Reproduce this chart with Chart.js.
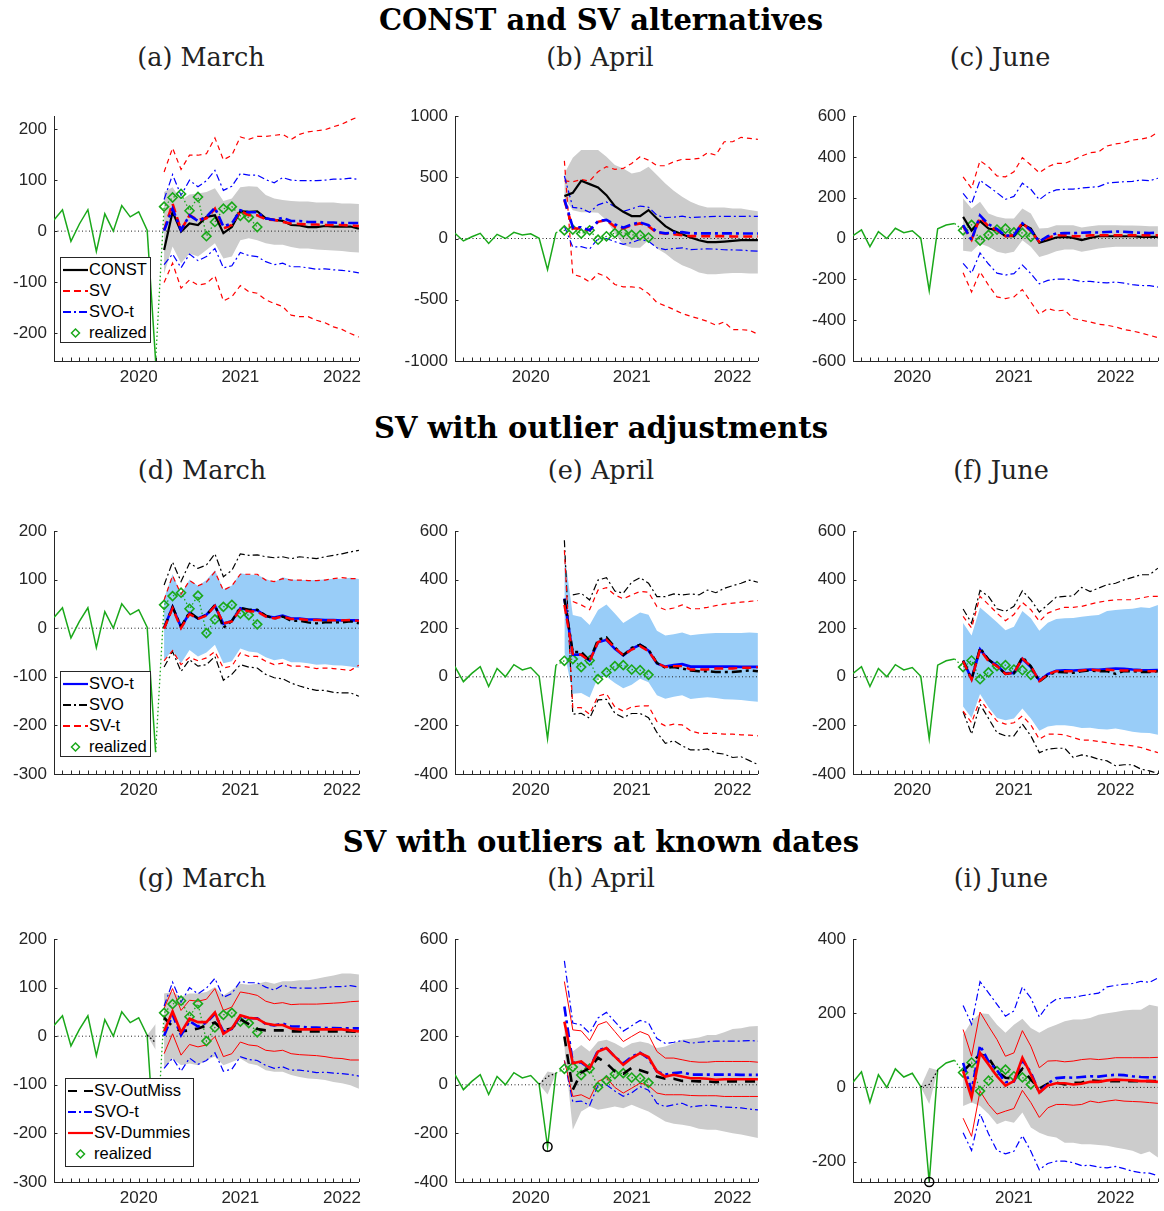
<!DOCTYPE html>
<html>
<head>
<meta charset="utf-8">
<script src="https://cdn.jsdelivr.net/npm/chart.js@4.4.1/dist/chart.umd.min.js"></script>
<style>
  html, body { margin: 0; padding: 0; background: #fff; }
  body { width: 1164px; height: 1211px; position: relative; overflow: hidden; }
  .ttl { position: absolute; font-family: 'DejaVu Serif', serif; font-weight: bold; font-size: 29px; line-height: 1; color: #000; transform: translate(-50%, -50%); white-space: nowrap; }
  .sub { position: absolute; font-family: 'DejaVu Serif', serif; font-size: 25.5px; line-height: 1; color: #222; transform: translate(-50%, -50%); white-space: nowrap; }
  canvas { position: absolute; }
  .leg { position: absolute; background: #fff; border: 1px solid #262626; box-sizing: border-box; padding-top: 1px;
         font-family: 'Liberation Sans', Arial, sans-serif; font-size: 16.5px; color: #000; }
  .leg div { height: 21px; display: flex; align-items: center; }
  .leg svg { margin: 0 1px 0 2px; flex: none; }
</style>
</head>
<body>

<div class="ttl" style="left:601px;top:20px">CONST and SV alternatives</div>
<div class="sub" style="left:201px;top:58px">(a) March</div>
<div class="sub" style="left:600px;top:58px">(b) April</div>
<div class="sub" style="left:1000px;top:58px">(c) June</div>

<div class="ttl" style="left:601px;top:428px">SV with outlier adjustments</div>
<div class="sub" style="left:202px;top:471px">(d) March</div>
<div class="sub" style="left:601px;top:471px">(e) April</div>
<div class="sub" style="left:1001px;top:471px">(f) June</div>

<div class="ttl" style="left:601px;top:842px">SV with outliers at known dates</div>
<div class="sub" style="left:202px;top:879px">(g) March</div>
<div class="sub" style="left:601px;top:879px">(h) April</div>
<div class="sub" style="left:1001px;top:879px">(i) June</div>

<canvas id="pa"></canvas><canvas id="pb"></canvas><canvas id="pc"></canvas>
<canvas id="pd"></canvas><canvas id="pe"></canvas><canvas id="pf"></canvas>
<canvas id="pg"></canvas><canvas id="ph"></canvas><canvas id="pi"></canvas>

<script>
// x is counted in months from Jan 2020 (0 = Jan 2020, 12 = Jan 2021 ...)
const actualStart = -10;
const actual = [22, 42, -20, 14, 42, -40, 34, 0, 50, 28, 38, 2, -255, 48, 66, 73, 40, 67, -10, 18, 44, 48, 30, 27, 8];
const outlierMonth = 2;

const yearTicks = [0, 12, 24];
const yearLabels = ['2020', '2021', '2022'];

const ticksA = [-200, -100, 0, 100, 200];
const ticksB = [-1000, -500, 0, 500, 1000];
const ticksC = [-600, -400, -200, 0, 200, 400, 600];
const ticksD = [-300, -200, -100, 0, 100, 200];
const ticksE = [-400, -200, 0, 200, 400, 600];
const ticksI = [-200, 0, 200, 400];

// ---- March vintage (forecasts from Apr 2020) ----
const marConstMed = [-37, 38, -1, 15, 12, 28, 31, -4, 8, 39, 38, 39, 25, 22, 20, 12, 11, 8, 8, 10, 9, 9, 9, 5];
const marConstLo = [-83, -30, -63, -44, -50, -37, -24, -54, -50, -18, -14, -18, -24, -27, -27, -31, -34, -34, -36, -37, -38, -39, -41, -42];
const marConstHi = [77, 86, 61, 72, 74, 77, 84, 59, 64, 86, 88, 87, 71, 64, 61, 59, 58, 58, 56, 56, 56, 54, 54, 53];
const marSvMed = [2, 54, 2, 31, 22, 25, 44, 5, 12, 40, 31, 31, 23, 22, 18, 15, 14, 13, 13, 12, 12, 12, 11, 10];
const marSvLo = [-101, -63, -112, -96, -106, -103, -88, -137, -129, -107, -119, -122, -135, -142, -148, -165, -168, -168, -175, -180, -188, -193, -201, -208];
const marSvHi = [116, 163, 121, 149, 149, 152, 183, 140, 149, 185, 180, 186, 186, 188, 190, 180, 190, 195, 197, 199, 205, 210, 218, 225];
const marSvotMed = [1, 44, 2, 31, 20, 28, 46, 9, 15, 41, 37, 37, 25, 22, 26, 20, 20, 18, 18, 17, 17, 16, 16, 16];
const marSvotLo = [-66, -45, -72, -45, -58, -50, -34, -72, -68, -42, -48, -50, -60, -66, -63, -70, -70, -72, -75, -74, -76, -77, -79, -82];
const marSvotHi = [62, 111, 70, 100, 87, 99, 119, 80, 88, 113, 110, 110, 101, 95, 105, 100, 99, 99, 99, 100, 102, 102, 104, 101];
const marSvoMed = [0, 44, 3, 33, 20, 27, 48, 1, 15, 42, 38, 38, 26, 20, 24, 15, 15, 12, 10, 12, 12, 12, 14, 10];
const marSvoLo = [-80, -48, -89, -65, -78, -75, -58, -107, -95, -75, -80, -82, -95, -102, -104, -113, -119, -124, -128, -128, -132, -133, -133, -140];
const marSvoHi = [89, 136, 96, 134, 123, 130, 153, 106, 119, 153, 150, 151, 147, 145, 147, 143, 147, 145, 143, 147, 150, 153, 157, 160];
const marSvtMed = [-1, 41, 0, 29, 19, 26, 46, 10, 14, 39, 35, 34, 24, 20, 24, 19, 19, 17, 17, 16, 16, 16, 17, 15];
const marSvtLo = [-67, -46, -75, -60, -67, -61, -48, -82, -78, -51, -58, -58, -68, -75, -72, -78, -78, -80, -83, -82, -83, -85, -87, -76];
const marSvtHi = [58, 108, 70, 98, 87, 95, 116, 78, 87, 111, 111, 111, 99, 96, 102, 99, 99, 98, 98, 99, 102, 104, 102, 102];
const marOmMed = [38, 20, 10, 12, 16, 22, 28, 12, 16, 35, 25, 15, 12, 12, 12, 10, 10, 10, 10, 10, 10, 10, 10, 9];
const marOmLo = [-66, -46, -60, -56, -60, -49, -42, -60, -53, -46, -56, -60, -70, -73, -73, -80, -84, -87, -88, -90, -94, -97, -101, -108];
const marOmHi = [88, 91, 81, 88, 88, 91, 101, 84, 95, 108, 106, 108, 112, 108, 113, 113, 115, 115, 118, 122, 125, 129, 129, 127];
const marOmPre = [2, -13];
const marOmPreLo = [2, -28];
const marOmPreHi = [2, 25];
const marDumMed = [10, 51, 8, 36, 29, 29, 49, 5, 16, 43, 38, 36, 26, 23, 23, 16, 14, 14, 14, 14, 14, 14, 12, 10];
const marDumLo = [-36, 5, -39, -17, -22, -18, -1, -42, -36, -12, -18, -20, -29, -31, -29, -36, -38, -39, -40, -42, -45, -46, -49, -49];
const marDumHi = [57, 98, 53, 74, 72, 76, 98, 53, 60, 91, 88, 84, 72, 67, 69, 65, 66, 66, 66, 67, 68, 69, 71, 72];

// ---- April vintage (forecasts from May 2020) ----
const aprConstMed = [346, 373, 471, 444, 417, 354, 264, 218, 183, 183, 232, 163, 101, 60, 35, 8, -14, -30, -30, -25, -19, -14, -14, -14];
const aprConstLo = [330, 230, 215, 215, 210, 150, 41, -54, -76, -76, -14, -82, -123, -177, -218, -245, -278, -292, -292, -286, -281, -281, -286, -286];
const aprConstHi = [531, 660, 722, 722, 722, 668, 600, 572, 531, 545, 586, 518, 450, 390, 341, 300, 272, 253, 253, 253, 245, 245, 232, 223];
const aprSvMed = [313, 82, 82, 68, 136, 150, 95, 82, 109, 123, 101, 46, 41, 35, 27, 19, 19, 19, 19, 19, 16, 16, 16, 16];
const aprSvLo = [634, -292, -313, -354, -286, -313, -376, -395, -395, -403, -450, -523, -550, -580, -613, -635, -654, -676, -708, -681, -744, -744, -749, -782];
const aprSvHi = [470, 463, 482, 469, 545, 586, 564, 572, 613, 668, 640, 594, 594, 627, 646, 646, 654, 700, 681, 790, 790, 826, 817, 809];
const aprSvotMed = [322, 91, 92, 67, 142, 152, 115, 88, 115, 132, 108, 55, 42, 48, 52, 42, 42, 42, 42, 42, 42, 41, 41, 41];
const aprSvotLo = [100, -70, -67, -85, -2, 0, -26, -47, -33, -8, -22, -76, -90, -82, -76, -91, -87, -84, -87, -92, -93, -95, -100, -103];
const aprSvotHi = [510, 254, 246, 213, 275, 298, 260, 221, 243, 265, 255, 190, 170, 175, 182, 171, 175, 178, 180, 180, 180, 180, 182, 180];
const aprSvoMed = [320, 102, 102, 67, 153, 162, 121, 89, 119, 132, 112, 57, 37, 40, 34, 26, 23, 23, 20, 20, 20, 23, 26, 23];
const aprSvoLo = [562, -154, -150, -171, -95, -93, -150, -168, -151, -151, -168, -229, -274, -263, -284, -301, -301, -297, -314, -318, -332, -329, -345, -361];
const aprSvoHi = [null, 337, 344, 316, 398, 408, 353, 344, 389, 408, 385, 330, 330, 341, 337, 341, 337, 357, 346, 364, 375, 385, 398, 389];
const aprSvtMed = [296, 94, 91, 64, 143, 153, 119, 89, 112, 126, 105, 57, 40, 44, 44, 30, 30, 30, 34, 34, 34, 37, 37, 40];
const aprSvtLo = [521, -127, -127, -154, -79, -70, -124, -141, -124, -120, -120, -184, -202, -195, -198, -222, -232, -233, -233, -236, -236, -239, -240, -243];
const aprSvtHi = [null, 310, 296, 276, 357, 367, 337, 321, 337, 351, 348, 289, 276, 283, 296, 280, 280, 286, 293, 299, 303, 307, 310, 314];
const aprOmMed = [199, -20, 50, 70, 111, 89, 55, 45, 70, 60, 48, 34, 25, 25, 16, 16, 14, 14, 11, 14, 14, 14, 14, 14];
const aprOmLo = [150, -185, -110, -89, -103, -96, -89, -96, -82, -96, -110, -130, -151, -160, -164, -171, -181, -185, -185, -192, -199, -205, -212, -219];
const aprOmHi = [230, 137, 164, 137, 178, 185, 171, 151, 171, 178, 171, 151, 158, 171, 185, 189, 195, 205, 205, 216, 230, 233, 240, 242];
const aprOmPre = [2, 34, 48];
const aprOmPreLo = [2, -40, 48];
const aprOmPreHi = [2, 55, 48];
const aprDumMed = [260, 89, 96, 68, 137, 151, 116, 82, 110, 130, 114, 55, 34, 41, 34, 27, 27, 25, 21, 23, 23, 23, 23, 23];
const aprDumLo = [100, -48, -41, -58, 14, 30, -11, -34, -14, 7, -3, -34, -41, -41, -41, -44, -45, -45, -45, -48, -48, -48, -48, -48];
const aprDumHi = [425, 226, 222, 182, 247, 260, 219, 178, 199, 219, 205, 137, 110, 110, 103, 96, 93, 93, 96, 96, 96, 96, 96, 93];

// ---- June vintage (forecasts from Jul 2020) ----
const junConstMed = [106, 38, 85, 49, 41, 11, 11, 70, 49, -21, -8, 5, 8, 3, -8, 3, 11, 11, 11, 11, 11, 8, 8, 8];
const junConstLo = [-60, -65, -25, -41, -65, -74, -65, -8, -41, -90, -78, -62, -54, -54, -65, -57, -49, -44, -41, -41, -41, -41, -41, -41];
const junConstHi = [196, 147, 180, 123, 106, 98, 98, 147, 123, 49, 52, 65, 65, 65, 54, 60, 65, 65, 65, 64, 64, 62, 60, 60];
const junSvMed = [60, -5, 103, 60, 41, 11, 16, 77, 36, -16, 3, 16, 16, 11, 11, 16, 16, 16, 16, 16, 16, 16, 16, 16];
const junSvLo = [-168, -262, -163, -229, -286, -294, -286, -250, -311, -371, -343, -355, -351, -392, -400, -409, -420, -425, -433, -446, -453, -463, -474, -486];
const junSvHi = [302, 245, 381, 351, 306, 302, 327, 396, 360, 322, 351, 368, 368, 384, 404, 420, 425, 453, 463, 469, 482, 487, 495, 520];
const junSvotMed = [66, -8, 113, 70, 46, 14, 16, 74, 40, -15, 11, 25, 27, 26, 28, 30, 29, 32, 34, 33, 30, 28, 27, 28];
const junSvotLo = [-122, -170, -71, -125, -170, -179, -172, -130, -172, -222, -205, -199, -199, -203, -211, -210, -215, -217, -213, -219, -226, -230, -231, -238];
const junSvotHi = [221, 170, 285, 255, 224, 192, 206, 271, 241, 190, 222, 238, 241, 242, 247, 251, 254, 271, 275, 278, 280, 286, 283, 295];
const junSvoMed = [67, -11, 119, 71, 44, 12, 16, 81, 44, -20, 7, 20, 19, 16, 23, 26, 23, 23, 12, 23, 23, 20, 20, 23];
const junSvoLo = [-144, -236, -113, -171, -230, -243, -243, -195, -243, -312, -298, -294, -294, -332, -321, -328, -339, -346, -366, -362, -362, -380, -387, -398];
const junSvoHi = [279, 221, 355, 331, 280, 269, 290, 354, 317, 266, 297, 328, 331, 333, 368, 351, 365, 379, 385, 399, 409, 420, 420, 447];
const junSvtMed = [64, -11, 112, 64, 44, 12, 16, 75, 44, -18, 10, 23, 23, 23, 26, 30, 26, 30, 26, 26, 26, 26, 23, 23];
const junSvtLo = [-141, -189, -93, -141, -182, -195, -189, -161, -198, -257, -236, -236, -239, -250, -261, -261, -266, -271, -277, -280, -284, -291, -302, -312];
const junSvtHi = [249, 201, 331, 297, 262, 231, 256, 306, 276, 228, 262, 276, 286, 286, 290, 299, 307, 313, 317, 317, 317, 324, 331, 331];
const junOmMed = [44, 66, 90, 80, 44, 26, 24, 50, 21, -3, 10, 13, 8, 12, 13, 19, 17, 17, 17, 17, 17, 17, 17, 17];
const junOmLo = [-50, -41, -50, -72, -99, -90, -95, -68, -108, -122, -131, -135, -149, -149, -153, -153, -155, -157, -162, -166, -171, -180, -173, -189];
const junOmHi = [142, 178, 200, 198, 169, 147, 169, 185, 160, 147, 160, 169, 178, 183, 183, 187, 196, 200, 203, 207, 209, 209, 223, 218];
const junOmPre = [2, 8, 46];
const junOmPreLo = [2, -45, 46];
const junOmPreHi = [2, 53, 46];
const junDumMed = [44, -28, 93, 62, 30, 5, 17, 80, 35, -14, 5, 11, 11, 8, 10, 15, 15, 19, 21, 20, 19, 17, 17, 15];
const junDumLo = [-83, -132, -10, -46, -72, -64, -57, -8, -41, -81, -55, -46, -46, -48, -46, -37, -41, -37, -34, -37, -38, -39, -41, -43];
const junDumHi = [156, 84, 203, 165, 129, 84, 93, 153, 111, 53, 71, 72, 69, 71, 75, 77, 75, 77, 80, 80, 80, 80, 80, 81];

const GREEN = '#1aa81a';
const RED = '#ff0000', BLUE = '#0000ff', BLACK = '#000000';
const GRAY = '#cccccc', LIGHTBLUE = '#99cdf8';
const AXIS = '#262626';
const NONE = 'rgba(0,0,0,0)';

const vintages = {
  mar: { start: 3, xmin: -10, xmax: 26, preStart: 1,
    constMed: marConstMed, constLo: marConstLo, constHi: marConstHi,
    svMed: marSvMed, svLo: marSvLo, svHi: marSvHi,
    svotMed: marSvotMed, svotLo: marSvotLo, svotHi: marSvotHi,
    svoMed: marSvoMed, svoLo: marSvoLo, svoHi: marSvoHi,
    svtMed: marSvtMed, svtLo: marSvtLo, svtHi: marSvtHi,
    omMed: marOmMed, omLo: marOmLo, omHi: marOmHi, omPre: marOmPre, omPreLo: marOmPreLo, omPreHi: marOmPreHi,
    dumMed: marDumMed, dumLo: marDumLo, dumHi: marDumHi },
  apr: { start: 4, xmin: -9, xmax: 27, preStart: 1,
    constMed: aprConstMed, constLo: aprConstLo, constHi: aprConstHi,
    svMed: aprSvMed, svLo: aprSvLo, svHi: aprSvHi,
    svotMed: aprSvotMed, svotLo: aprSvotLo, svotHi: aprSvotHi,
    svoMed: aprSvoMed, svoLo: aprSvoLo, svoHi: aprSvoHi,
    svtMed: aprSvtMed, svtLo: aprSvtLo, svtHi: aprSvtHi,
    omMed: aprOmMed, omLo: aprOmLo, omHi: aprOmHi, omPre: aprOmPre, omPreLo: aprOmPreLo, omPreHi: aprOmPreHi,
    dumMed: aprDumMed, dumLo: aprDumLo, dumHi: aprDumHi },
  jun: { start: 6, xmin: -7, xmax: 29, preStart: 1,
    constMed: junConstMed, constLo: junConstLo, constHi: junConstHi,
    svMed: junSvMed, svLo: junSvLo, svHi: junSvHi,
    svotMed: junSvotMed, svotLo: junSvotLo, svotHi: junSvotHi,
    svoMed: junSvoMed, svoLo: junSvoLo, svoHi: junSvoHi,
    svtMed: junSvtMed, svtLo: junSvtLo, svtHi: junSvtHi,
    omMed: junOmMed, omLo: junOmLo, omHi: junOmHi, omPre: junOmPre, omPreLo: junOmPreLo, omPreHi: junOmPreHi,
    dumMed: junDumMed, dumLo: junDumLo, dumHi: junDumHi }
};

const pts = (start, vals) => vals.map((v, i) => ({ x: start + i, y: v }));

function line(data, color, width, dash, extra) {
  return Object.assign({
    data, borderColor: color, borderWidth: width, borderDash: dash || [],
    pointRadius: 0, fill: false, tension: 0, spanGaps: false
  }, extra || {});
}

function band(start, lo, hi, color) {
  return [
    { data: pts(start, hi), borderColor: NONE, borderWidth: 0, pointRadius: 0, backgroundColor: color, fill: '+1' },
    { data: pts(start, lo), borderColor: NONE, borderWidth: 0, pointRadius: 0, fill: false }
  ];
}

const zero = v => line([{ x: v.xmin, y: 0 }, { x: v.xmax, y: 0 }], '#222', 1, [1, 2.5]);

function actualLine(v) {
  const vals = actual.slice(v.xmin - actualStart, v.start - actualStart);
  return line(pts(v.xmin, vals), GREEN, 1.5);
}

function realized(v) {
  const from = v.start - 1;
  const vals = actual.slice(from - actualStart);
  return line(pts(from, vals), GREEN, 1.3, [1.5, 2.5], {
    pointRadius: vals.map((_, i) => (i === 0 ? 0 : 4.5)),
    pointStyle: 'rectRot', pointBorderColor: GREEN, pointBackgroundColor: NONE, pointBorderWidth: 1.6
  });
}

function outlierCircle() {
  return {
    data: [{ x: outlierMonth, y: actual[outlierMonth - actualStart] }],
    showLine: false, pointRadius: 4.5, pointStyle: 'circle', borderColor: BLACK,
    pointBorderColor: BLACK, pointBackgroundColor: NONE, pointBorderWidth: 1.5, clip: false
  };
}

const thinDash = [5, 4], thickDash = [9, 5];
const thinDashDot = [7, 3, 2, 3], thickDashDot = [10, 4, 3, 4];

function row1(v) {
  const s = v.start;
  return [
    ...band(s, v.constLo, v.constHi, GRAY),
    zero(v),
    line(pts(s, v.svHi), RED, 1.2, thinDash),
    line(pts(s, v.svLo), RED, 1.2, thinDash),
    line(pts(s, v.svotHi), BLUE, 1.2, thinDashDot),
    line(pts(s, v.svotLo), BLUE, 1.2, thinDashDot),
    actualLine(v), realized(v),
    line(pts(s, v.constMed), BLACK, 2.2),
    line(pts(s, v.svMed), RED, 2.6, thickDash),
    line(pts(s, v.svotMed), BLUE, 2.6, thickDashDot)
  ];
}

function row2(v) {
  const s = v.start;
  return [
    ...band(s, v.svotLo, v.svotHi, LIGHTBLUE),
    zero(v),
    line(pts(s, v.svoHi), BLACK, 1.2, thinDashDot),
    line(pts(s, v.svoLo), BLACK, 1.2, thinDashDot),
    line(pts(s, v.svtHi), RED, 1.2, thinDash),
    line(pts(s, v.svtLo), RED, 1.2, thinDash),
    actualLine(v), realized(v),
    line(pts(s, v.svotMed), BLUE, 2.6),
    line(pts(s, v.svoMed), BLACK, 2.4, thickDashDot),
    line(pts(s, v.svtMed), RED, 2.4, thickDash)
  ];
}

function row3(v) {
  const s = v.start;
  return [
    ...band(s, v.omLo, v.omHi, GRAY),
    ...band(v.preStart, v.omPreLo, v.omPreHi, GRAY),
    zero(v),
    line(pts(s, v.svotHi), BLUE, 1.2, thinDashDot),
    line(pts(s, v.svotLo), BLUE, 1.2, thinDashDot),
    line(pts(s, v.dumHi), RED, 1),
    line(pts(s, v.dumLo), RED, 1),
    actualLine(v), realized(v),
    line(pts(v.preStart, v.omPre), BLACK, 1.3, [1.5, 2.5]),
    line(pts(s, v.omMed), BLACK, 2.6, [10, 8]),
    line(pts(s, v.svotMed), BLUE, 2.6, thickDashDot),
    line(pts(s, v.dumMed), RED, 2.6),
    outlierCircle()
  ];
}

// plot-box geometry (page pixels)
const colLeft = [54, 455, 853], colRight = [363, 762, 1162];
const rowTop = [116, 531, 939], rowBottom = [361, 774, 1182];
const Y_AXIS_W = 60, X_AXIS_H = 36, PAD_TOP = 8, PAD_RIGHT = 2;

const panels = [
  { id: 'pa', row: 0, col: 0, v: 'mar', build: row1, yMin: -255, yMax: 226, yTicks: ticksA },
  { id: 'pb', row: 0, col: 1, v: 'apr', build: row1, yMin: -1000, yMax: 1000, yTicks: ticksB },
  { id: 'pc', row: 0, col: 2, v: 'jun', build: row1, yMin: -600, yMax: 600, yTicks: ticksC },
  { id: 'pd', row: 1, col: 0, v: 'mar', build: row2, yMin: -300, yMax: 200, yTicks: ticksD },
  { id: 'pe', row: 1, col: 1, v: 'apr', build: row2, yMin: -400, yMax: 600, yTicks: ticksE },
  { id: 'pf', row: 1, col: 2, v: 'jun', build: row2, yMin: -400, yMax: 600, yTicks: ticksE },
  { id: 'pg', row: 2, col: 0, v: 'mar', build: row3, yMin: -300, yMax: 200, yTicks: ticksD },
  { id: 'ph', row: 2, col: 1, v: 'apr', build: row3, yMin: -400, yMax: 600, yTicks: ticksE },
  { id: 'pi', row: 2, col: 2, v: 'jun', build: row3, yMin: -255, yMax: 400, yTicks: ticksI }
];

// MATLAB-style ticks pointing into the plot box
const innerTicks = {
  id: 'innerTicks',
  afterDatasetsDraw(chart) {
    const { ctx, chartArea: a, scales: { x, y } } = chart;
    ctx.save();
    ctx.strokeStyle = AXIS;
    ctx.lineWidth = 1;
    ctx.setLineDash([]);
    ctx.beginPath();
    for (let m = Math.ceil(x.min); m <= x.max; m++) {
      const px = Math.round(x.getPixelForValue(m)) + 0.5;
      ctx.moveTo(px, a.bottom);
      ctx.lineTo(px, a.bottom - 3.5);
    }
    y.ticks.forEach(t => {
      const py = Math.round(y.getPixelForValue(t.value)) + 0.5;
      ctx.moveTo(a.left, py);
      ctx.lineTo(a.left + 3.5, py);
    });
    ctx.stroke();
    ctx.restore();
  }
};

const tickFont = { family: "'Liberation Sans', Arial, sans-serif", size: 17 };

function noPadding(s) {
  s.paddingTop = 0; s.paddingBottom = 0; s.paddingLeft = 0; s.paddingRight = 0;
}

panels.forEach(p => {
  const v = vintages[p.v];
  const canvas = document.getElementById(p.id);
  const plotW = colRight[p.col] - colLeft[p.col];
  const plotH = rowBottom[p.row] - rowTop[p.row];
  canvas.width = Y_AXIS_W + plotW + PAD_RIGHT;
  canvas.height = PAD_TOP + plotH + X_AXIS_H;
  canvas.style.left = (colLeft[p.col] - Y_AXIS_W) + 'px';
  canvas.style.top = (rowTop[p.row] - PAD_TOP) + 'px';

  const datasets = p.build(v);
  datasets.forEach((d, i) => { d.order = datasets.length - i; });

  new Chart(canvas.getContext('2d'), {
    type: 'line',
    data: { datasets },
    options: {
      responsive: false,
      animation: false,
      devicePixelRatio: 1,
      layout: { padding: { top: PAD_TOP, right: PAD_RIGHT, left: 0, bottom: 0 } },
      plugins: { legend: { display: false }, tooltip: { enabled: false } },
      scales: {
        x: {
          type: 'linear', min: v.xmin, max: v.xmax,
          afterBuildTicks: s => { s.ticks = yearTicks.map(value => ({ value })); },
          afterFit: s => { s.height = X_AXIS_H; noPadding(s); },
          ticks: {
            autoSkip: false, maxRotation: 0, padding: 6, color: AXIS, font: tickFont,
            callback: val => yearLabels[yearTicks.indexOf(val)]
          },
          grid: { display: false, drawTicks: false },
          border: { display: true, color: AXIS, width: 1 }
        },
        y: {
          min: p.yMin, max: p.yMax,
          afterBuildTicks: s => { s.ticks = p.yTicks.map(value => ({ value })); },
          afterFit: s => { s.width = Y_AXIS_W; noPadding(s); },
          ticks: { padding: 7, color: AXIS, font: tickFont, callback: val => String(val) },
          grid: { display: false, drawTicks: false },
          border: { display: true, color: AXIS, width: 1 }
        }
      }
    },
    plugins: [innerTicks]
  });
});

// legends (MATLAB-like boxes inside the plots)
const legendA = [
  { label: 'CONST', color: BLACK, dash: '' },
  { label: 'SV', color: RED, dash: '7 4' },
  { label: 'SVO-t', color: BLUE, dash: '8 3 2 3' },
  { label: 'realized', marker: true }
];
const legendD = [
  { label: 'SVO-t', color: BLUE, dash: '' },
  { label: 'SVO', color: BLACK, dash: '8 3 2 3' },
  { label: 'SV-t', color: RED, dash: '7 4' },
  { label: 'realized', marker: true }
];
const legendG = [
  { label: 'SV-OutMiss', color: BLACK, dash: '9 7' },
  { label: 'SVO-t', color: BLUE, dash: '8 3 2 3' },
  { label: 'SV-Dummies', color: RED, dash: '' },
  { label: 'realized', marker: true }
];
const legends = [
  { items: legendA, left: 60, top: 257, width: 91, height: 86 },
  { items: legendD, left: 60, top: 671, width: 91, height: 86 },
  { items: legendG, left: 65, top: 1078, width: 129, height: 89 }
];

legends.forEach(L => {
  const box = document.createElement('div');
  box.className = 'leg';
  Object.assign(box.style, { left: L.left + 'px', top: L.top + 'px', width: L.width + 'px', height: L.height + 'px' });
  L.items.forEach(it => {
    const row = document.createElement('div');
    const sample = it.marker
      ? `<svg width="25" height="12"><polygon points="12.5,2 16.5,6 12.5,10 8.5,6" fill="none" stroke="${GREEN}" stroke-width="1.5"/></svg>`
      : `<svg width="25" height="12"><line x1="0" y1="6" x2="25" y2="6" stroke="${it.color}" stroke-width="2.2" stroke-dasharray="${it.dash}"/></svg>`;
    row.innerHTML = sample + '<span></span>';
    row.querySelector('span').textContent = it.label;
    box.appendChild(row);
  });
  document.body.appendChild(box);
});
</script>
</body>
</html>
